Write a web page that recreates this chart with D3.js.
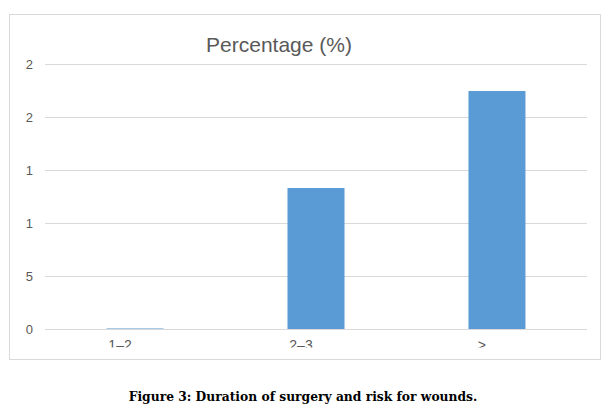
<!DOCTYPE html>
<html lang="en">
<head>
<meta charset="utf-8">
<title>Percentage (%)</title>
<script src="https://cdn.jsdelivr.net/npm/d3@7"></script>
<style>
  body { margin: 0; background: #fff; }
</style>
</head>
<body>
<script>
// data
var categories = ["1–2", "2–3", ">"];
var values = [0.05, 13.3, 22.45];
var tickValues = [0, 5, 10, 15, 20, 25];
var tickLabels = ["0", "5", "1", "1", "2", "2"];   // as printed (clipped) in the original

var svg = d3.select("body").append("svg")
    .attr("width", 614)
    .attr("height", 411);

// outer chart frame
svg.append("rect")
    .attr("x", 9.5).attr("y", 14.5)
    .attr("width", 591).attr("height", 345)
    .attr("fill", "#fff")
    .attr("stroke", "#d9d9d9");

var x = d3.scaleBand()
    .domain(categories)
    .range([45, 587])
    .paddingInner(0.685)
    .paddingOuter(0.34);

var y = d3.scaleLinear()
    .domain([0, 25])
    .range([329, 64]);

// gridlines
svg.append("g").selectAll("line")
    .data(tickValues)
    .enter().append("line")
    .attr("x1", 45).attr("x2", 587)
    .attr("y1", function(d) { return y(d) + 0.5; })
    .attr("y2", function(d) { return y(d) + 0.5; })
    .attr("stroke", "#d9d9d9");

// y tick labels
svg.append("g").selectAll("text")
    .data(tickValues)
    .enter().append("text")
    .attr("x", 33)
    .attr("y", function(d) { return y(d) + 4.5; })
    .attr("text-anchor", "end")
    .attr("fill", "#595959")
    .attr("font-family", "Liberation Sans, Arial, sans-serif")
    .attr("font-size", 13)
    .text(function(d, i) { return tickLabels[i]; });

// bars
svg.append("g").selectAll("rect")
    .data(values)
    .enter().append("rect")
    .attr("x", function(d, i) { return x(categories[i]); })
    .attr("y", function(d) { return y(d); })
    .attr("width", x.bandwidth())
    .attr("height", function(d) { return y(0) - y(d); })
    .attr("fill", "#5b9bd5");

// x labels, clipped at the bottom like the original
svg.append("clipPath").attr("id", "xclip")
    .append("rect").attr("x", 0).attr("y", 330).attr("width", 614).attr("height", 17.5);

svg.append("g").attr("clip-path", "url(#xclip)")
    .selectAll("text")
    .data(categories)
    .enter().append("text")
    .attr("x", function(d) { return x(d) + x.bandwidth() / 2 - 15; })
    .attr("y", 350)
    .attr("text-anchor", "middle")
    .attr("fill", "#595959")
    .attr("font-family", "Liberation Sans, Arial, sans-serif")
    .attr("font-size", 14)
    .text(function(d) { return d; });

// title
svg.append("text")
    .attr("x", 279)
    .attr("y", 52)
    .attr("text-anchor", "middle")
    .attr("fill", "#595959")
    .attr("font-family", "Liberation Sans, Arial, sans-serif")
    .attr("font-size", 21)
    .text("Percentage (%)");

// caption
svg.append("text")
    .attr("x", 303)
    .attr("y", 401)
    .attr("text-anchor", "middle")
    .attr("fill", "#000")
    .attr("font-family", "DejaVu Serif, serif")
    .attr("font-weight", "bold")
    .attr("font-size", 12.3)
    .text("Figure 3: Duration of surgery and risk for wounds.");
</script>
</body>
</html>
